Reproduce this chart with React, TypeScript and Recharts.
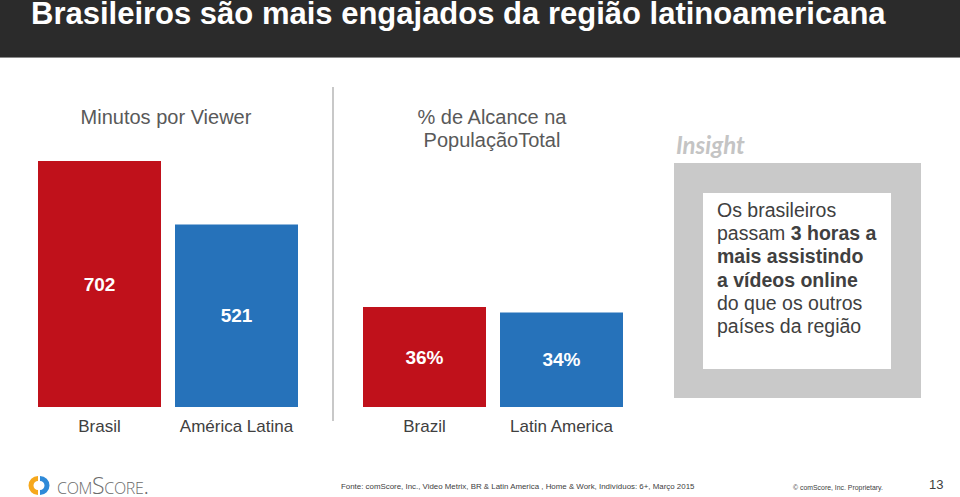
import { BarChart, Bar, XAxis, YAxis, Cell, LabelList } from 'recharts';

const minutosCategories = ['Brasil', 'América Latina'];
const minutosValues = [702, 521];
const alcanceCategories = ['Brazil', 'Latin America'];
const alcanceValues = [36, 34];
const barColors = ['#c0111b', '#2672ba'];

const insightLines = [
  { text: 'Os brasileiros', bold: '' },
  { text: 'passam ', bold: '3 horas a' },
  { text: '', bold: 'mais assistindo' },
  { text: '', bold: 'a vídeos online' },
  { text: 'do que os outros', bold: '' },
  { text: 'países da região', bold: '' },
];

const minutosData = minutosCategories.map((name, i) => ({ name, value: minutosValues[i] }));
const alcanceData = alcanceCategories.map((name, i) => ({ name, value: alcanceValues[i] }));

const font = 'Arial, "Liberation Sans", sans-serif';

function SmallBars({ data, max, fmt }: { data: { name: string; value: number }[]; max: number; fmt: (v: number) => string }) {
  return (
    <BarChart
      width={290}
      height={297}
      data={data}
      margin={{ top: 21, right: 8, left: 8, bottom: 0 }}
      barCategoryGap={7}
    >
      <XAxis
        dataKey="name"
        axisLine={false}
        tickLine={false}
        tickMargin={7}
        interval={0}
        height={30}
        tick={{ fill: '#404040', fontSize: 17, fontFamily: font }}
      />
      <YAxis hide domain={[0, max]} />
      <Bar dataKey="value" isAnimationActive={false}>
        {data.map((d, i) => (
          <Cell key={d.name} fill={barColors[i]} />
        ))}
        <LabelList
          dataKey="value"
          position="center"
          formatter={(v: any) => fmt(Number(v))}
          style={{ fill: '#ffffff', fontSize: 19, fontWeight: 'bold', fontFamily: font }}
        />
      </Bar>
    </BarChart>
  );
}

export default function App() {
  return (
    <div style={{ position: 'relative', width: 960, height: 497, background: '#fff', overflow: 'hidden', fontFamily: font }}>
      <style>{`body{margin:0}`}</style>
      <div style={{ position: 'absolute', left: 0, top: 0, width: 960, height: 57, background: '#2b2b2b', borderBottom: '1px solid #8a8a8a' }} />
      <div style={{ position: 'absolute', left: 31, top: 0, color: '#fff', fontSize: 31, fontWeight: 'bold', lineHeight: '28px', whiteSpace: 'nowrap' }}>
        Brasileiros são mais engajados da região latinoamericana
      </div>

      <div style={{ position: 'absolute', left: 16, top: 106, width: 300, textAlign: 'center', color: '#595959', fontSize: 20, lineHeight: '23px' }}>
        Minutos por Viewer
      </div>
      <div style={{ position: 'absolute', left: 342, top: 106, width: 300, textAlign: 'center', color: '#595959', fontSize: 20, lineHeight: '23px' }}>
        % de Alcance na<br />PopulaçãoTotal
      </div>

      <div style={{ position: 'absolute', left: 332, top: 87, width: 2, height: 334, background: '#c8c8c8' }} />

      <div style={{ position: 'absolute', left: 23, top: 140 }}>
        <SmallBars data={minutosData} max={702} fmt={(v) => String(v)} />
      </div>
      <div style={{ position: 'absolute', left: 347.5, top: 140 }}>
        <SmallBars data={alcanceData} max={88.5} fmt={(v) => `${v}%`} />
      </div>

      <div style={{ position: 'absolute', left: 676, top: 130, color: '#c4c4c4', fontSize: 24, fontWeight: 'bold', fontStyle: 'italic', fontFamily: 'Lato, sans-serif', lineHeight: '30px' }}>
        Insight
      </div>
      <div style={{ position: 'absolute', left: 674, top: 163, width: 247, height: 235, background: '#c9c9c9' }} />
      <div style={{ position: 'absolute', left: 703, top: 193, width: 188, height: 176, background: '#fff' }} />
      <div style={{ position: 'absolute', left: 717, top: 199, color: '#404040', fontSize: 19.5, lineHeight: '23.2px', whiteSpace: 'nowrap' }}>
        {insightLines.map((l, i) => (
          <div key={i}>
            {l.text}
            {l.bold && <b>{l.bold}</b>}
          </div>
        ))}
      </div>

      <svg style={{ position: 'absolute', left: 28, top: 475 }} width={22} height={22}>
        <path d="M10 1 A9.5 9.5 0 0 0 10 20 L10 15 A4.5 4.5 0 0 1 10 6 Z" fill="#f6a81c" />
        <path d="M12 1 A9.5 9.5 0 0 1 12 20 L12 15 A4.5 4.5 0 0 0 12 6 Z" fill="#2f8ad8" />
      </svg>
      <div style={{ position: 'absolute', left: 57, top: 474, color: '#6b6b6b', fontSize: 23, fontWeight: 300, fontFamily: '"Open Sans", sans-serif', fontVariant: 'small-caps', lineHeight: '22px', letterSpacing: -0.3 }}>
        comScore.
      </div>
      <div style={{ position: 'absolute', left: 341, top: 481, color: '#404040', fontSize: 7.9, fontFamily: '"Liberation Sans Narrow", Arial, sans-serif', lineHeight: '12px', whiteSpace: 'nowrap' }}>
        Fonte: comScore, Inc., Video Metrix, BR &amp; Latin America , Home &amp; Work, Indivíduos: 6+, Março 2015
      </div>
      <div style={{ position: 'absolute', left: 793, top: 483, color: '#404040', fontSize: 6.9, fontFamily: '"Liberation Sans Narrow", Arial, sans-serif', lineHeight: '10px', whiteSpace: 'nowrap' }}>
        © comScore, Inc. Proprietary.
      </div>
      <div style={{ position: 'absolute', left: 929, top: 477, color: '#404040', fontSize: 13, lineHeight: '16px' }}>13</div>
    </div>
  );
}
